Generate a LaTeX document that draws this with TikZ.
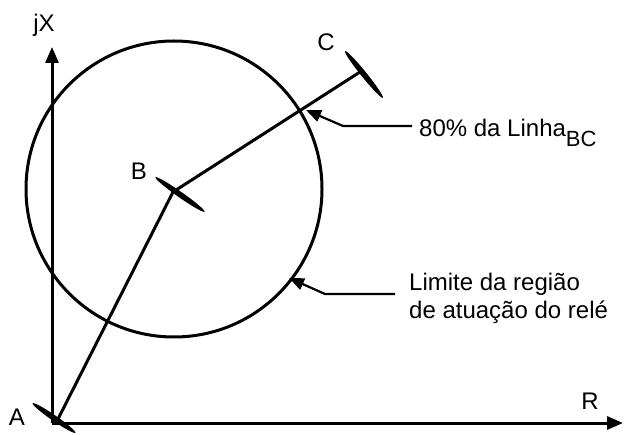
\documentclass[tikz,border=0pt]{standalone}
\usepackage{fontspec}
\setmainfont{Liberation Sans}
\usetikzlibrary{arrows.meta,calc,positioning}

\begin{document}
\begin{tikzpicture}[x=1pt,y=1pt,
line/.style={line width=3pt},
axis/.style={line width=3pt,-{Triangle[length=16pt,width=13pt]}},
pointer/.style={line width=2.2pt,-{Triangle[length=15pt,width=12pt]}},
lbl/.style={font=\fontsize{24}{28}\selectfont,inner sep=0pt,anchor=base},
txt/.style={font=\fontsize{24}{28}\selectfont,inner sep=0pt,align=left,anchor=base west},]
\useasboundingbox (0,0) rectangle (624,434);
% eixos
\coordinate (O) at (52,11);
\coordinate (Ytip) at (52,387);
\coordinate (Xtip) at (623,11);
\draw[axis] (O) -- (Ytip);
\draw[axis] (O) -- (Xtip);
\node[lbl] (jx) at (44,402) {jX};
\node[lbl] (r) at (590,24) {R};
% pontos da linha
\coordinate (A) at (57,13);
\coordinate (B) at (173,242);
\coordinate (C) at (360,362);
\draw[line] (A) -- (B) -- (C);
\fill[shift={(54,16)},rotate=-34.6] (0,0) ellipse (26 and 2.8);
\fill[shift={(180,239.5)},rotate=-35] (0,0) ellipse (30 and 2.8);
\fill[shift={(364,359.5)},rotate=-51] (0,0) ellipse (30 and 2.8);
\node[lbl] (a) at (17,9) {A};
\node[lbl] (b) at (139,254) {B};
\node[lbl] (c) at (326,383) {C};
% circulo
\coordinate (M) at (174,245);
\draw[line] (M) circle (148);
% legendas
\node[txt] (alcance) at (419,297) {80\% da Linha\raisebox{-10pt}{\fontsize{22}{26}\selectfont BC}};
\node[txt] (limite) at (409,115) {Limite da região\\de atuação do relé};
\coordinate (e1) at (412,308);
\coordinate (k1) at (343,308);
\coordinate (t1) at (306,324);
\coordinate (e2) at (395,140);
\coordinate (k2) at (325,140);
\coordinate (t2) at (289,156);
\draw[pointer] (e1) -- (k1) -- (t1);
\draw[pointer] (e2) -- (k2) -- (t2);
\end{tikzpicture}
\end{document}
